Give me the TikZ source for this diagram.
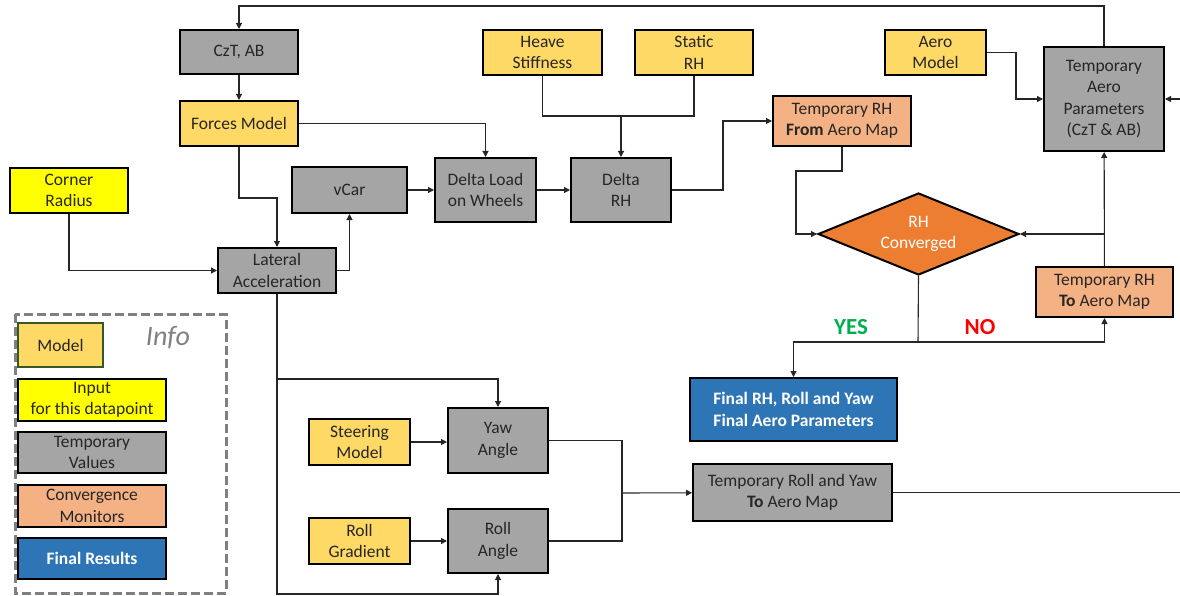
\documentclass[tikz,border=0pt]{standalone}
\usepackage{fontspec}
\setmainfont{Carlito}
\usetikzlibrary{arrows.meta,shapes.geometric}
\definecolor{modelc}{HTML}{FFD966}
\definecolor{inputc}{HTML}{FFFF00}
\definecolor{tempc}{HTML}{A5A5A5}
\definecolor{convc}{HTML}{F4B183}
\definecolor{finc}{HTML}{2E75B6}
\definecolor{decc}{HTML}{ED7D31}
\definecolor{legc}{HTML}{385723}
\definecolor{yesc}{HTML}{00B050}
\begin{document}
\begin{tikzpicture}[x=1pt,y=-1pt,
  box/.style={draw=black,line width=2pt,align=center,inner sep=0pt,text=black!85,
    font=\fontsize{17.5}{21.5}\selectfont},
  model/.style={box,fill=modelc},
  input/.style={box,fill=inputc},
  temp/.style={box,fill=tempc},
  conv/.style={box,fill=convc},
  fin/.style={box,fill=finc,text=white,font=\fontsize{17.5}{21.5}\selectfont\bfseries},
  wire/.style={draw=black!85,line width=1.1pt},
  >={Triangle[length=6pt,width=6pt]}]
\useasboundingbox (0,0) rectangle (1180,596);
\node[temp,minimum width=118pt,minimum height=44pt] (czt) at (239,52) {CzT, AB};
\node[model,minimum width=118pt,minimum height=45pt] (fm) at (239,123.5) {Forces Model};
\node[input,minimum width=118pt,minimum height=45pt] (cr) at (69,190.5) {Corner\\Radius};
\node[temp,minimum width=115pt,minimum height=46pt] (vcar) at (349.5,190) {vCar};
\node[temp,minimum width=118pt,minimum height=45pt] (la) at (277,270.5) {Lateral\\Acceleration};
\node[model,minimum width=119pt,minimum height=45pt] (hs) at (542.5,52.5) {Heave\\Stiffness};
\node[model,minimum width=118pt,minimum height=45pt] (sr) at (694,52.5) {Static\\RH};
\node[temp,minimum width=101pt,minimum height=64pt] (dl) at (485.5,190) {Delta Load\\on Wheels};
\node[temp,minimum width=100pt,minimum height=64pt] (drh) at (621,190) {Delta\\RH};
\node[conv,minimum width=138pt,minimum height=50pt] (trhf) at (842,121) {Temporary RH\\\textbf{From} Aero Map};
\node[model,minimum width=101pt,minimum height=45pt] (am) at (935.5,52.5) {Aero\\Model};
\node[temp,minimum width=120pt,minimum height=104pt] (taero) at (1104,99) {Temporary\\Aero\\Parameters\\(CzT \& AB)};
\node[box,diamond,fill=decc,text=white,aspect=2.45,minimum width=201pt,minimum height=82pt] (rhc) at (918.5,234) {RH\\Converged};
\node[conv,minimum width=137pt,minimum height=50pt] (trht) at (1104.5,292) {Temporary RH\\\textbf{To} Aero Map};
\node[fin,minimum width=207pt,minimum height=63pt] (final) at (793.5,409.5) {Final RH, Roll and Yaw\\Final Aero Parameters};
\node[model,minimum width=101pt,minimum height=46pt] (sm) at (359.5,442) {Steering\\Model};
\node[temp,minimum width=100pt,minimum height=65pt] (yaw) at (498,440.5) {Yaw\\Angle};
\node[model,minimum width=101pt,minimum height=46pt] (rg) at (359.5,541) {Roll\\Gradient};
\node[temp,minimum width=100pt,minimum height=64pt] (ra) at (498,541) {Roll\\Angle};
\node[temp,minimum width=199pt,minimum height=57pt] (trry) at (792.5,492.5) {Temporary Roll and Yaw\\\textbf{To} Aero Map};
\node[font=\fontsize{23}{26}\selectfont\bfseries,text=yesc] (yes) at (851,327) {YES};
\node[font=\fontsize{23}{26}\selectfont\bfseries,text=red] (no) at (980,327) {NO};

% legend
\draw[gray,line width=3pt,dash pattern=on 9pt off 4pt] (15,314) rectangle (226,593);
\node[model,draw=legc,minimum width=85pt,minimum height=44pt] (lgmod) at (60.5,345) {Model};
\node[font=\fontsize{28}{32}\selectfont\itshape,text=gray] (info) at (168,338) {Info};
\node[input,minimum width=148pt,minimum height=42pt] (lgin) at (92,400) {Input\\for this datapoint};
\node[temp,minimum width=148pt,minimum height=41pt] (lgtmp) at (92,452.5) {Temporary\\Values};
\node[conv,minimum width=148pt,minimum height=42pt] (lgconv) at (92,506) {Convergence\\Monitors};
\node[fin,minimum width=148pt,minimum height=41pt] (lgfin) at (92,558.5) {Final Results};

\coordinate (hj) at (621,116);
\coordinate (split) at (918,342);
\coordinate (aj) at (621,493);
\coordinate (edge) at (1184,492.5);

\draw[wire,->] (taero.north) -- ++(0,-40) -| (czt.north);
\draw[wire,->] (czt) -- (fm);
\draw[wire,->] (fm.south) -- ++(0,51) -| (la.north);
\draw[wire,->] (cr) |- (la);
\draw[wire,->] (la) -| (vcar);
\draw[wire,->] (vcar) -- (dl);
\draw[wire,->] (fm) -| (dl);
\draw[wire,->] (dl) -- (drh);
\draw[wire] (hs.south) |- (hj) -| (sr.south);
\draw[wire,->] (hj) -- (drh);
\draw[wire,->] (drh.east) -- ++(51,0) |- (trhf);
\draw[wire,->] (trhf.south) -- ++(0,24) -- ++(-46,0) |- (rhc.west);
\draw[wire,->] (am.east) -- ++(29,0) |- (taero);
\draw[wire,->] (trht) -- (taero);
\draw[wire,->] (rhc.east -| trht) -- (rhc.east);
\draw[wire] (rhc.south) -- (split);
\draw[wire,->] (split) -| (final);
\draw[wire,->] (split) -| (trht);
\draw[wire,->] (la.south) -- ++(0,85) -| (yaw);
\draw[wire,->] (la.south) -- ++(0,300) -| (ra);
\draw[wire,->] (sm) -- (sm -| yaw.west);
\draw[wire,->] (rg) -- (ra);
\draw[wire] (yaw.east) -- ++(73,0) |- (ra.east);
\draw[wire,->] (aj) -- (trry);
\draw[wire,->] (trry) -- (edge) |- (taero.east);
\end{tikzpicture}
\end{document}
